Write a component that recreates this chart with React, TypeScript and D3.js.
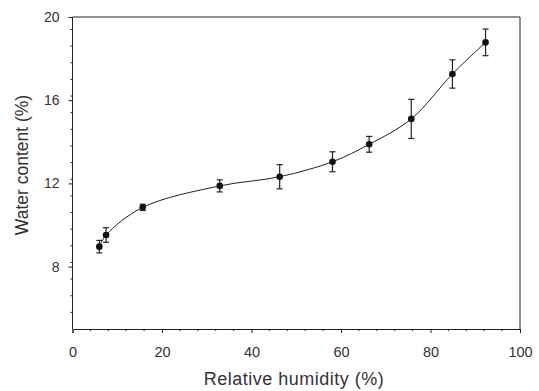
import React, { useEffect, useRef } from 'react'
import * as d3 from 'd3'

const humidity = [6.0, 7.5, 15.7, 32.9, 46.3, 58.1, 66.3, 75.7, 84.9, 92.3]
const waterContent = [8.96, 9.52, 10.85, 11.88, 12.32, 13.04, 13.88, 15.1, 17.26, 18.78]
const errors = [0.3, 0.35, 0.15, 0.29, 0.58, 0.48, 0.38, 0.94, 0.68, 0.64]
const xTicks = [0, 20, 40, 60, 80, 100]
const yTicks = [8, 12, 16, 20]

export default function App() {
  const svgRef = useRef<SVGSVGElement>(null)

  useEffect(() => {
    const width = 539
    const height = 391
    const svg = d3.select(svgRef.current)
    svg.selectAll('*').remove()
    svg.attr('width', width).attr('height', height)

    const x = d3.scaleLinear().domain([0, 100]).range([72.5, 520])
    const y = d3.scaleLinear().domain([5, 20]).range([329, 17])
    const font = 'Liberation Sans, Arial, sans-serif'
    const ink = '#222'

    // frame lines
    svg.append('line').attr('x1', x(0)).attr('x2', x(100)).attr('y1', y(20)).attr('y2', y(20))
      .attr('stroke', ink).attr('stroke-width', 1)
    svg.append('line').attr('x1', x(100)).attr('x2', x(100)).attr('y1', y(20)).attr('y2', y(5))
      .attr('stroke', ink).attr('stroke-width', 1)

    // x axis
    const xAxis = svg.append('g').attr('transform', `translate(0,${y(5)})`)
      .call(d3.axisBottom(x).tickValues(xTicks).tickSize(4).tickPadding(14).tickFormat(d3.format('d')))
    xAxis.select('.domain').attr('stroke', ink)
    xAxis.selectAll('.tick line').attr('stroke', ink)
    xAxis.selectAll('text').attr('font-family', font).attr('font-size', 14.5).attr('fill', '#333')
    const xMinor = d3.range(0, 100, 4).filter(v => v % 20 !== 0)
    xAxis.selectAll('.minor').data(xMinor).enter().append('line')
      .attr('x1', d => x(d)).attr('x2', d => x(d)).attr('y1', 0).attr('y2', 2)
      .attr('stroke', ink)

    // y axis
    const yAxis = svg.append('g').attr('transform', `translate(${x(0)},0)`)
      .call(d3.axisLeft(y).tickValues(yTicks).tickSize(4).tickPadding(9))
    yAxis.select('.domain').attr('stroke', ink).attr('d', `M0,${y(5)}V${y(20)}`)
    yAxis.selectAll('.tick line').attr('stroke', ink)
    yAxis.selectAll('text').attr('font-family', font).attr('font-size', 14).attr('fill', '#333')
    const yMinor = d3.range(5.8, 20, 0.8).filter(v => Math.abs(((v - 8) / 4) - Math.round((v - 8) / 4)) > 0.01)
    yAxis.selectAll('.minor').data(yMinor).enter().append('line')
      .attr('x1', 0).attr('x2', -2).attr('y1', d => y(d)).attr('y2', d => y(d))
      .attr('stroke', ink)

    // axis titles
    svg.append('text').attr('x', 294).attr('y', 385).attr('text-anchor', 'middle')
      .attr('font-family', font).attr('font-size', 18).attr('letter-spacing', 0.5).attr('fill', '#333')
      .text('Relative humidity (%)')
    svg.append('text').attr('transform', `translate(28,165) rotate(-90)`)
      .attr('text-anchor', 'middle').attr('font-family', font).attr('font-size', 17.5).attr('fill', '#333')
      .text('Water content (%)')

    const pts = humidity.map((h, i) => [h, waterContent[i], errors[i]])

    // fitted curve
    const line = d3.line<number[]>().x(d => x(d[0])).y(d => y(d[1])).curve(d3.curveCatmullRom.alpha(0.5))
    svg.append('path').datum(pts).attr('d', line).attr('fill', 'none')
      .attr('stroke', ink).attr('stroke-width', 1)

    // error bars
    const eb = svg.append('g').attr('stroke', ink).attr('stroke-width', 1.2)
    pts.forEach(d => {
      eb.append('line').attr('x1', x(d[0])).attr('x2', x(d[0])).attr('y1', y(d[1] - d[2])).attr('y2', y(d[1] + d[2]))
      eb.append('line').attr('x1', x(d[0]) - 3).attr('x2', x(d[0]) + 3).attr('y1', y(d[1] + d[2])).attr('y2', y(d[1] + d[2]))
      eb.append('line').attr('x1', x(d[0]) - 3).attr('x2', x(d[0]) + 3).attr('y1', y(d[1] - d[2])).attr('y2', y(d[1] - d[2]))
    })

    // points
    svg.append('g').selectAll('circle').data(pts).enter().append('circle')
      .attr('cx', d => x(d[0])).attr('cy', d => y(d[1])).attr('r', 3.3).attr('fill', '#111')
  }, [])

  return <svg ref={svgRef} style={{ position: 'absolute', left: 0, top: 0 }}></svg>
}
